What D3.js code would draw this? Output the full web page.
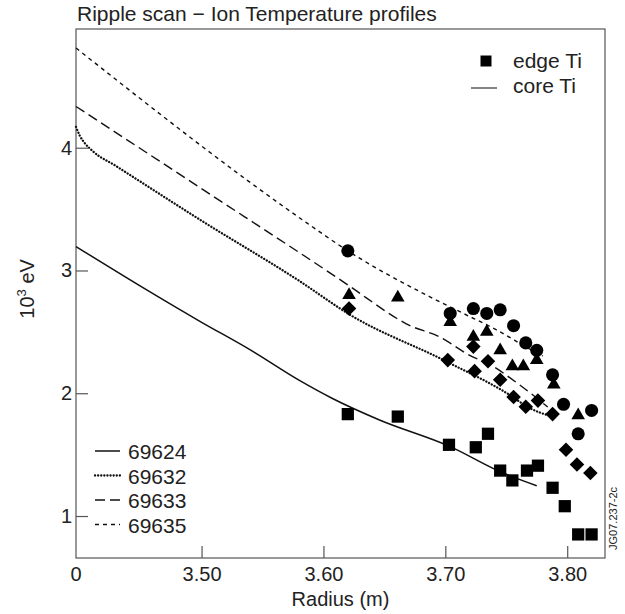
<!DOCTYPE html>
<html>
<head>
<meta charset="utf-8">
<script src="https://cdn.jsdelivr.net/npm/d3@7"></script>
<style>
  body { margin: 0; background: #fff; }
  text { font-family: "Liberation Sans", Arial, sans-serif; fill: #222; }
</style>
</head>
<body>
<div id="chart"></div>
<script>
// core Ti profiles (radius m, 10^3 eV)
var shots = ["69624", "69632", "69633", "69635"];
var core69624 = [[3.397, 3.195], [3.455, 2.842], [3.499, 2.584], [3.540, 2.353], [3.581, 2.100],
  [3.607, 1.959], [3.646, 1.782], [3.704, 1.565], [3.745, 1.361], [3.775, 1.247]];
var core69632 = [[3.397, 4.170], [3.400, 4.100], [3.404, 4.040], [3.411, 3.970], [3.430, 3.850],
  [3.499, 3.412], [3.581, 2.910], [3.622, 2.638], [3.700, 2.263], [3.755, 1.972], [3.767, 1.891],
  [3.786, 1.815]];
var core69633 = [[3.397, 4.336], [3.499, 3.673], [3.622, 2.869], [3.660, 2.611], [3.668, 2.565],
  [3.695, 2.461], [3.722, 2.298], [3.734, 2.247], [3.761, 2.068], [3.784, 1.888]];
var core69635 = [[3.397, 4.812], [3.586, 3.390], [3.620, 3.160], [3.687, 2.787], [3.714, 2.654],
  [3.742, 2.516], [3.772, 2.345], [3.780, 2.304]];

// edge Ti points
var edge69624 = [[3.620, 1.83], [3.661, 1.81], [3.703, 1.58], [3.725, 1.56], [3.735, 1.67],
  [3.745, 1.37], [3.755, 1.29], [3.767, 1.37], [3.776, 1.41], [3.788, 1.23], [3.798, 1.08],
  [3.809, 0.85], [3.820, 0.85]];
var edge69632 = [[3.621, 2.69], [3.702, 2.27], [3.723, 2.38], [3.724, 2.18], [3.735, 2.26],
  [3.745, 2.11], [3.756, 1.97], [3.766, 1.89], [3.776, 1.94], [3.788, 1.83], [3.799, 1.54],
  [3.808, 1.42], [3.819, 1.35]];
var edge69633 = [[3.621, 2.80], [3.661, 2.78], [3.704, 2.58], [3.723, 2.46], [3.734, 2.50],
  [3.745, 2.35], [3.755, 2.22], [3.764, 2.22], [3.775, 2.27], [3.789, 2.07], [3.809, 1.82]];
var edge69635 = [[3.620, 3.16], [3.704, 2.65], [3.723, 2.69], [3.734, 2.65], [3.745, 2.68],
  [3.756, 2.55], [3.766, 2.41], [3.775, 2.35], [3.788, 2.15], [3.797, 1.91], [3.820, 1.86],
  [3.809, 1.67]];

var xTicks = [3.50, 3.60, 3.70, 3.80];
var yTicks = [1, 2, 3, 4];

var margin = {top: 29, right: 20, bottom: 56, left: 76},
    width = 625 - margin.left - margin.right,
    height = 614 - margin.top - margin.bottom;

var svg = d3.select("#chart")
  .append("svg")
    .attr("width", 625)
    .attr("height", 614)
  .append("g")
    .attr("transform", "translate(" + margin.left + "," + margin.top + ")");

var x = d3.scaleLinear().domain([3.397, 3.831]).range([0, width]);
var y = d3.scaleLinear().domain([0.658, 4.967]).range([height, 0]);

// frame
svg.append("rect")
  .attr("width", width).attr("height", height)
  .attr("fill", "none").attr("stroke", "#555").attr("stroke-width", 1.2);

var xAxis = svg.append("g")
  .attr("transform", "translate(0," + height + ")")
  .call(d3.axisBottom(x).tickValues(xTicks).tickSize(-12).tickPadding(9)
    .tickFormat(d3.format(".2f")));
xAxis.append("text").attr("x", 0).attr("y", 9).attr("dy", "0.71em")
  .attr("text-anchor", "middle").text("0");

var yAxis = svg.append("g")
  .call(d3.axisLeft(y).tickValues(yTicks).tickSize(-12).tickPadding(4)
    .tickFormat(d3.format("d")));

[xAxis, yAxis].forEach(function(a) {
  a.select(".domain").remove();
  a.selectAll(".tick line").attr("stroke", "#555").attr("stroke-width", 1.2);
  a.selectAll("text").style("font-size", "20px").attr("fill", "#222")
    .style("font-family", "Liberation Sans, Arial, sans-serif");
});

// titles
svg.append("text").attr("x", 1).attr("y", -8).style("font-size", "21px")
  .text("Ripple scan \u2212 Ion Temperature profiles");

svg.append("text").attr("x", x(3.614)).attr("y", height + 48)
  .attr("text-anchor", "middle").style("font-size", "20px").text("Radius (m)");

var yl = svg.append("text")
  .attr("transform", "translate(-42," + (y(2.85)) + ") rotate(-90)")
  .attr("text-anchor", "middle").style("font-size", "20px");
yl.append("tspan").text("10");
yl.append("tspan").attr("dy", -8).style("font-size", "13px").text("3");
yl.append("tspan").attr("dy", 8).text(" eV");

svg.append("text")
  .attr("transform", "translate(" + (width + 12) + "," + (y(0.98)) + ") rotate(-90)")
  .attr("text-anchor", "middle").style("font-size", "11px").text("JG07.237-2c");

// core profiles
var styles = [
  {dash: null, width: 1.5, cap: "butt"},
  {dash: "0.1,3", width: 2.3, cap: "round"},
  {dash: "10,5", width: 1.4, cap: "butt"},
  {dash: "4,4", width: 1.4, cap: "butt"}
];
var cores = [core69624, core69632, core69633, core69635];
var line = d3.line()
  .x(function(d) { return x(d[0]); })
  .y(function(d) { return y(d[1]); })
  .curve(d3.curveMonotoneX);

cores.forEach(function(c, i) {
  svg.append("path").datum(c)
    .attr("d", line)
    .attr("fill", "none")
    .attr("stroke", "#111")
    .attr("stroke-width", styles[i].width)
    .attr("stroke-linecap", styles[i].cap)
    .attr("stroke-dasharray", styles[i].dash);
});

// edge markers
var markers = [
  {data: edge69624, type: d3.symbolSquare, size: 150, rot: 0},
  {data: edge69632, type: d3.symbolSquare, size: 106, rot: 45},
  {data: edge69633, type: d3.symbolTriangle, size: 80, rot: 0},
  {data: edge69635, type: d3.symbolCircle, size: 135, rot: 0}
];
markers.forEach(function(m) {
  svg.selectAll(null).data(m.data).enter().append("path")
    .attr("d", d3.symbol().type(m.type).size(m.size))
    .attr("transform", function(d) {
      return "translate(" + x(d[0]) + "," + y(d[1]) + ") rotate(" + m.rot + ")";
    })
    .attr("fill", "#000");
});

// legend top right
var lg = svg.append("g");
lg.append("path").attr("d", d3.symbol().type(d3.symbolSquare).size(121))
  .attr("transform", "translate(" + (486 - margin.left) + "," + (61 - margin.top) + ")");
lg.append("text").attr("x", 513 - margin.left).attr("y", 68 - margin.top)
  .style("font-size", "21px").text("edge Ti");
lg.append("line").attr("x1", 471 - margin.left).attr("x2", 497 - margin.left)
  .attr("y1", 88 - margin.top).attr("y2", 88 - margin.top)
  .attr("stroke", "#333").attr("stroke-width", 1.2);
lg.append("text").attr("x", 513 - margin.left).attr("y", 93 - margin.top)
  .style("font-size", "21px").text("core Ti");

// legend bottom left
var lb = svg.append("g").attr("transform", "translate(" + (95 - margin.left) + "," + (451 - margin.top) + ")");
shots.forEach(function(s, i) {
  var row = lb.append("g").attr("transform", "translate(0," + (i * 24.5) + ")");
  row.append("line").attr("x1", 0).attr("x2", 25).attr("y1", 0).attr("y2", 0)
    .attr("stroke", "#111")
    .attr("stroke-width", styles[i].width)
    .attr("stroke-linecap", styles[i].cap)
    .attr("stroke-dasharray", styles[i].dash);
  row.append("text").attr("x", 33).attr("y", 8).style("font-size", "21px").text(s);
});
</script>
</body>
</html>
